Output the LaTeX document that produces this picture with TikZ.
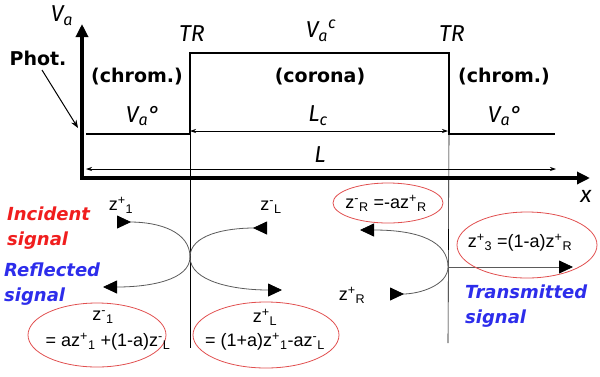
\documentclass[tikz,border=0pt]{standalone}
\usepackage{fontspec}
\setmainfont{Fira Sans}
\newfontfamily\arialf{Liberation Sans}
\newfontfamily\djv{DejaVu Sans}
\usetikzlibrary{arrows.meta,shapes.geometric}
\definecolor{ellred}{RGB}{225,80,80}
\definecolor{sigred}{RGB}{240,30,30}
\definecolor{sigblue}{RGB}{45,45,235}
\definecolor{curvegray}{RGB}{90,90,90}
\begin{document}
\begin{tikzpicture}[x=1pt,y=-1pt,
  axis/.style={line width=3.2pt,-{Triangle[length=13pt,width=12pt]}},
  stepline/.style={line width=2pt},
  thinline/.style={line width=0.6pt},
  dimarrow/.style={line width=0.7pt,{Stealth[length=6pt,width=4pt]}-{Stealth[length=6pt,width=4pt]}},
  boldlab/.style={font=\djv\bfseries\fontsize{19}{22}\selectfont,inner sep=0pt},
  itlab/.style={font=\itshape\fontsize{23}{26}\selectfont,inner sep=0pt},
  zlab/.style={font=\arialf\fontsize{18}{21}\selectfont,inner sep=0pt,align=center},
  sig/.style={font=\djv\bfseries\itshape\fontsize{18}{25}\selectfont,inner sep=0pt,align=left},
  wave/.style={line width=0.8pt,draw=curvegray},
  tipout/.style={-{Triangle[length=14pt,width=13pt,color=black,fill=black]}},
  tipin/.style={-{Triangle[length=14pt,width=13pt,reversed,color=black,fill=black]}},
  ell/.style={ellipse,draw=ellred,line width=0.8pt,inner sep=0pt}
]
\useasboundingbox (0,0) rectangle (600,376);

% coordinates
\coordinate (O) at (82,178);
\coordinate (Ytop) at (82,24);
\coordinate (Xend) at (590,178);
\coordinate (s0) at (86,134);
\coordinate (s1) at (190,134);
\coordinate (s2) at (190,53);
\coordinate (s3) at (449,53);
\coordinate (s4) at (449,134);
\coordinate (s5) at (555,134);
\coordinate (v1b) at (190,348);
\coordinate (v2b) at (448,343);
\coordinate (Lc1) at (190,131);
\coordinate (Lc2) at (448,131);
\coordinate (L1) at (86,169);
\coordinate (L2) at (556,169);
\coordinate (J1) at (190,257);
\coordinate (J2) at (448,267);

% axes
\draw[axis] (O) -- (Ytop);
\draw[axis] ([xshift=-1.6pt]O) -- (Xend);
\node[itlab] (va) at (62,16) {V\textsubscript{a}};
\node[itlab] (xl) at (586,196) {x};

% step profile
\draw[stepline] (s0) -- (s1) -- (s2) -- (s3) -- (s4) -- (s5);
\draw[thinline] (s1) -- (v1b);
\draw[thinline] (s4) -- (v2b);

% dimensions
\draw[dimarrow] (Lc1) -- (Lc2);
\draw[dimarrow] (L1) -- (L2);

% labels top
\node[itlab] (tr1) at (192,34) {TR};
\node[itlab] (tr2) at (452,34) {TR};
\node[itlab] (vac) at (321,31) {V\textsubscript{a}\textsuperscript{c}};
\node[boldlab] (ch1) at (137,77) {(chrom.)};
\node[boldlab] (cor) at (320,77) {(corona)};
\node[boldlab] (ch2) at (504,77) {(chrom.)};
\node[itlab] (va1) at (143,116) {V\textsubscript{a}°};
\node[itlab] (va2) at (505,116) {V\textsubscript{a}°};
\node[itlab] (lc) at (318,116) {L\textsubscript{c}};
\node[itlab] (ll) at (320,155) {L};
\node[boldlab] (phot) at (38,58) {Phot.};
\coordinate (pa) at (42,70);
\coordinate (pb) at (78,128);
\draw[line width=1pt,-{Stealth[length=8pt,width=6pt]}] (pa) -- (pb);

% side labels
\node[sig,text=sigred,anchor=west] (inc) at (7,228) {Incident\\signal};
\node[sig,text=sigblue,anchor=west] (ref) at (4,284) {Reflected\\signal};
\node[sig,text=sigblue,anchor=west] (tra) at (465,306) {Transmitted\\signal};

% wave curves
\coordinate (a1) at (117,222);
\coordinate (a2) at (103,287);
\coordinate (a3) at (267,228);
\coordinate (a4) at (282,290);
\coordinate (b1) at (360,230);
\coordinate (b2) at (390,294);
\coordinate (b3) at (573,267);
\draw[wave,tipin] (J1) .. controls (190,232) and (160,222) .. (a1);
\draw[wave,tipout] (J1) .. controls (190,280) and (150,287) .. (a2);
\draw[wave,tipin] (J1) .. controls (190,235) and (225,228) .. (a3);
\draw[wave,tipout] (J1) .. controls (190,282) and (235,290) .. (a4);
\draw[wave,tipout] (J2) .. controls (448,242) and (420,230) .. (b1);
\draw[wave,tipin] (J2) .. controls (448,285) and (420,294) .. (b2);
\draw[wave,tipout] (J2) -- (b3);

% z labels
\node[zlab] (z1p) at (121,205) {z\textsuperscript{+}\textsubscript{1}};
\node[zlab] (zLm) at (271,207) {z\textsuperscript{-}\textsubscript{L}};
\node[zlab] (zRp) at (352,295) {z\textsuperscript{+}\textsubscript{R}};

% ellipses
\node[ell,minimum width=138pt,minimum height=64pt] (e1) at (97,335) {};
\node[ell,minimum width=146pt,minimum height=66pt] (e2) at (266,335) {};
\node[ell,minimum width=110pt,minimum height=40pt] (e3) at (388,203) {};
\node[ell,minimum width=140pt,minimum height=66pt] (e4) at (527,245) {};

\node[zlab] (t1a) at (103,317) {z\textsuperscript{-}\textsubscript{1}};
\node[zlab] (t1b) at (108,342) {= az\textsuperscript{+}\textsubscript{1} +(1-a)z\textsuperscript{-}\textsubscript{L}};
\node[zlab] (t2a) at (265,317) {z\textsuperscript{+}\textsubscript{L}};
\node[zlab] (t2b) at (265,342) {= (1+a)z\textsuperscript{+}\textsubscript{1}-az\textsuperscript{-}\textsubscript{L}};
\node[zlab] (t3) at (386,203) {z\textsuperscript{-}\textsubscript{R} =-az\textsuperscript{+}\textsubscript{R}};
\node[zlab] (t4) at (520,243) {z\textsuperscript{+}\textsubscript{3} =(1-a)z\textsuperscript{+}\textsubscript{R}};
\end{tikzpicture}
\end{document}
